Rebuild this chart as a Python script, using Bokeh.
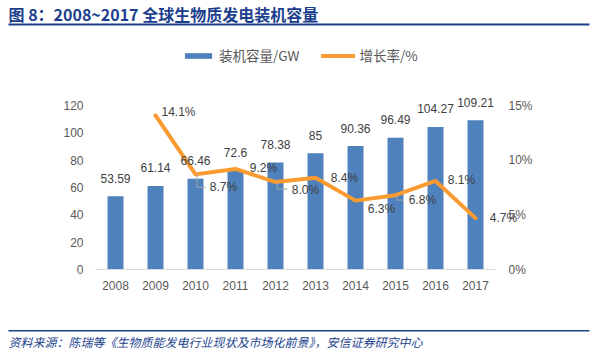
from bokeh.plotting import figure
from bokeh.models import (ColumnDataSource, Range1d, LinearAxis, FixedTicker, PrintfTickFormatter,
                          LabelSet, Label, Legend, LegendItem, BoxAnnotation)
from bokeh.core.properties import value
from bokeh.embed import file_html
from bokeh.resources import INLINE

# ---------------- data ----------------
years = [2008, 2009, 2010, 2011, 2012, 2013, 2014, 2015, 2016, 2017]
capacity_gw = [53.59, 61.14, 66.46, 72.6, 78.38, 85, 90.36, 96.49, 104.27, 109.21]
growth_years = [2009, 2010, 2011, 2012, 2013, 2014, 2015, 2016, 2017]
growth_pct = [14.1, 8.7, 9.2, 8.0, 8.4, 6.3, 6.8, 8.1, 4.7]
left_ticks = [0, 20, 40, 60, 80, 100, 120]
right_ticks = [0, 5, 10, 15]
title_text = "图 8：2008~2017 全球生物质发电装机容量"
source_text = "资料来源：陈瑞等《生物质能发电行业现状及市场化前景》，安信证券研究中心"
bar_name = "装机容量/GW"
line_name = "增长率/%"

# label placement (style): pixel offsets of growth labels from their points (y down)
g_dx = [23, 28, 28, 30, 29, 26, 27, 26, 28]
g_dy = [-3, 13, -1, 8, 0, 8, 5, -1, 0]
leader_years = [2010, 2012, 2015]
leader_drop_px = [13, 7, 5]
leader_run_px = [10, 12, 8]

BLUE = "#4F81BD"
ORANGE = "#F99B31"
NAVY = "#1B3F8D"
TXT = "#404040"
AX = "#595959"
FONT = "Liberation Sans"
CJK = "Noto Sans CJK SC"

# ---------------- geometry (page pixels) ----------------
W, H = 596, 356
PLOT_L, PLOT_R = 95, 495          # category axis extent
BASE_Y, TOP_Y = 269, 105          # pixel rows of 0 and 120 on the left axis
PX_YEAR = (PLOT_R - PLOT_L) / len(years)
PX_UNIT = (BASE_Y - TOP_Y) / left_ticks[-1]
PCT_SCALE = left_ticks[-1] / right_ticks[-1]

x0 = years[0] - 0.5
x_lo = x0 - PLOT_L / PX_YEAR
x_hi = x_lo + W / PX_YEAR
y_lo = -(H - BASE_Y) / PX_UNIT
y_hi = BASE_Y / PX_UNIT

p = figure(width=W, height=H, x_range=Range1d(x_lo, x_hi), y_range=Range1d(y_lo, y_hi),
           output_backend="svg", toolbar_location=None,
           x_axis_location=None, y_axis_location=None,
           min_border=0, min_border_left=0, min_border_right=0,
           min_border_top=0, min_border_bottom=0)
p.outline_line_color = None
p.xgrid.grid_line_color = None
p.ygrid.grid_line_color = None
p.background_fill_color = "white"
p.border_fill_color = "white"
p.extra_y_ranges = {"pct": Range1d(y_lo / PCT_SCALE, y_hi / PCT_SCALE)}

bars = ColumnDataSource(dict(x=years, top=capacity_gw, lab=[f"{v:g}" for v in capacity_gw]))
vb = p.vbar(x="x", top="top", width=0.4, source=bars, color=BLUE, line_color=None)

gsrc = ColumnDataSource(dict(x=growth_years, y=growth_pct, lab=[f"{v:.1f}%" for v in growth_pct],
                             dx=g_dx, dy=[-d for d in g_dy]))
ln = p.line(x="x", y="y", source=gsrc, y_range_name="pct", color=ORANGE, line_width=4,
            line_join="round", line_cap="round")

# leader lines for some growth labels
pct_per_px = 1 / (PX_UNIT * PCT_SCALE)
lxs, lys = [], []
for yr, drop, run in zip(leader_years, leader_drop_px, leader_run_px):
    g = growth_pct[growth_years.index(yr)]
    y2 = g - drop * pct_per_px
    lxs.append([yr + 0.04, yr + 0.04, yr + run / PX_YEAR])
    lys.append([g, y2, y2])
p.multi_line(xs=lxs, ys=lys, y_range_name="pct", line_color="#A6A6A6", line_width=1)

p.add_layout(LabelSet(x="x", y="top", text="lab", source=bars, y_offset=18,
                      text_align="center", text_baseline="middle",
                      text_font=value(FONT), text_font_size="12px", text_color=TXT))
p.add_layout(LabelSet(x="x", y="y", text="lab", source=gsrc, y_range_name="pct",
                      x_offset="dx", y_offset="dy",
                      text_align="center", text_baseline="middle",
                      text_font=value(FONT), text_font_size="12px", text_color=TXT))


def style_axis(ax, standoff):
    ax.major_tick_line_color = None
    ax.minor_tick_line_color = None
    ax.major_tick_out = 0
    ax.major_tick_in = 0
    ax.major_label_text_font = FONT
    ax.major_label_text_font_size = "12px"
    ax.major_label_text_color = AX
    ax.major_label_standoff = standoff


xa = LinearAxis(fixed_location=0, ticker=FixedTicker(ticks=years),
                major_label_overrides={y: str(y) for y in years},
                bounds=(years[0] - 0.5, years[-1] + 0.5))
style_axis(xa, 11)
xa.axis_line_color = "#D9D9D9"
xa.axis_line_width = 1
p.add_layout(xa, "below")

la = LinearAxis(fixed_location=years[0] - 0.5, ticker=FixedTicker(ticks=left_ticks),
                bounds=(0, left_ticks[-1]))
style_axis(la, 12)
la.axis_line_color = None
p.add_layout(la, "left")

ra = LinearAxis(fixed_location=years[-1] + 0.5, y_range_name="pct",
                ticker=FixedTicker(ticks=right_ticks), bounds=(0, right_ticks[-1]),
                formatter=PrintfTickFormatter(format="%d%%"))
style_axis(ra, 13)
ra.axis_line_color = None
p.add_layout(ra, "right")

# legend
legend = Legend(items=[LegendItem(label=bar_name, renderers=[vb]),
                       LegendItem(label=line_name, renderers=[ln])],
                orientation="horizontal", location=(181, H - 65),
                glyph_width=34, glyph_height=7, label_height=14, label_standoff=4,
                spacing=22, padding=0, margin=0, border_line_color=None,
                background_fill_alpha=0,
                label_text_font=CJK, label_text_font_size="13.5px", label_text_color=AX)
p.add_layout(legend, "center")

# title, rules and source note (screen units: from bottom-left of canvas)
p.add_layout(Label(x=8, y=H - 13, x_units="screen", y_units="screen", text=title_text,
                   text_baseline="middle", text_font=CJK, text_font_size="16px",
                   text_font_style="bold", text_color=NAVY))
for top_y, bot_y in ((23, 25), (329.5, 331)):
    p.add_layout(BoxAnnotation(left=8, right=589, top=H - top_y, bottom=H - bot_y,
                               left_units="screen", right_units="screen",
                               top_units="screen", bottom_units="screen",
                               fill_color=NAVY, fill_alpha=1, line_color=None))
p.add_layout(Label(x=8, y=H - 341, x_units="screen", y_units="screen", text=source_text,
                   text_baseline="middle", text_font=CJK, text_font_size="12px",
                   text_font_style="italic", text_color=NAVY))

open("out.html", "w").write(file_html(p, INLINE))
